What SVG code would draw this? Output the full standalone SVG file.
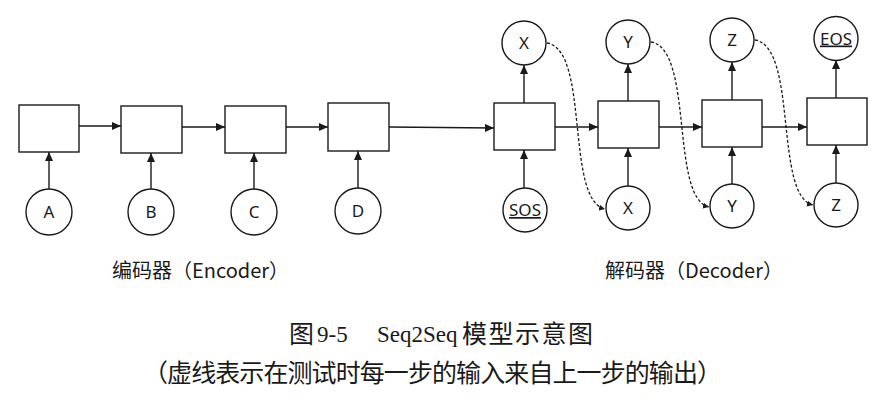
<svg xmlns="http://www.w3.org/2000/svg" width="880" height="403" viewBox="0 0 880 403">
<defs>
<marker id="ah" markerUnits="userSpaceOnUse" markerWidth="9" markerHeight="8" refX="9" refY="4" orient="auto"><path d="M0,0 L9,4 L0,8 z" fill="#1a1a1a"/></marker>
<marker id="ahs" markerUnits="userSpaceOnUse" markerWidth="6" markerHeight="6" refX="6" refY="3" orient="auto"><path d="M0,0 L6,3 L0,6 z" fill="#1a1a1a"/></marker>
<style>
.box{fill:#fff;stroke:#1a1a1a;stroke-width:1.4}
.cir{fill:#fff;stroke:#1a1a1a;stroke-width:1.4}
.lbl{font-family:"Noto Sans","Liberation Sans",sans-serif;font-size:17px;fill:#1a1a1a;text-anchor:middle}
.u{text-decoration:underline}
.edge{fill:none;stroke:#1a1a1a;stroke-width:1.4;marker-end:url(#ah)}
.dash{fill:none;stroke:#1a1a1a;stroke-width:1.3;stroke-dasharray:3 2;marker-end:url(#ahs)}
.sec{font-family:"Noto Sans CJK SC","Noto Sans",sans-serif;font-size:20px;fill:#1a1a1a}
.cap{font-family:"Liberation Serif","Noto Sans CJK SC",serif;font-size:23px;fill:#1a1a1a}
.capc{font-family:"Noto Sans CJK SC",serif;font-size:25px;fill:#1a1a1a}
</style>
</defs>
<rect width="880" height="403" fill="#fff"/>
<g id="connectors">
<line class="edge" x1="79" y1="126" x2="121" y2="126"/>
<line class="edge" x1="182" y1="127" x2="225" y2="127"/>
<line class="edge" x1="286" y1="127" x2="328" y2="127"/>
<line class="edge" x1="389" y1="127" x2="494" y2="128"/>
<line class="edge" x1="555" y1="127" x2="598" y2="127"/>
<line class="edge" x1="659" y1="127" x2="702" y2="127"/>
<line class="edge" x1="762" y1="127" x2="807" y2="127"/>
<line class="edge" x1="49" y1="189" x2="49" y2="152"/>
<line class="edge" x1="151" y1="189" x2="151" y2="153"/>
<line class="edge" x1="254" y1="189" x2="254" y2="153"/>
<line class="edge" x1="358" y1="188" x2="358" y2="151"/>
<line class="edge" x1="524" y1="188" x2="524" y2="150"/>
<line class="edge" x1="628" y1="186" x2="628" y2="148"/>
<line class="edge" x1="732" y1="184" x2="732" y2="147"/>
<line class="edge" x1="836" y1="183" x2="836" y2="145"/>
<line class="edge" x1="524" y1="103" x2="524" y2="65"/>
<line class="edge" x1="628" y1="101" x2="628" y2="64"/>
<line class="edge" x1="732" y1="100" x2="732" y2="62"/>
<line class="edge" x1="836" y1="98" x2="836" y2="60"/>
<path class="dash" d="M547,43 C590,50 565,200 605,209"/>
<path class="dash" d="M651,42 C694,49 670,198 709,207"/>
<path class="dash" d="M755,40 C798,47 774,196 813,205"/>
</g>
<g id="enc1"><rect class="box" x="19" y="105" width="60" height="47"/></g>
<g id="enc2"><rect class="box" x="121" y="106" width="61" height="47"/></g>
<g id="enc3"><rect class="box" x="225" y="106" width="61" height="47"/></g>
<g id="enc4"><rect class="box" x="328" y="103" width="61" height="48"/></g>
<g id="dec1"><rect class="box" x="494" y="103" width="61" height="47"/></g>
<g id="dec2"><rect class="box" x="598" y="101" width="61" height="47"/></g>
<g id="dec3"><rect class="box" x="702" y="100" width="60" height="47"/></g>
<g id="dec4"><rect class="box" x="807" y="98" width="60" height="47"/></g>
<g id="inA"><circle class="cir" cx="49" cy="212" r="23"/><text class="lbl" x="49" y="218">A</text></g>
<g id="inB"><circle class="cir" cx="151" cy="212" r="23"/><text class="lbl" x="151" y="218">B</text></g>
<g id="inC"><circle class="cir" cx="254" cy="212" r="23"/><text class="lbl" x="254" y="218">C</text></g>
<g id="inD"><circle class="cir" cx="358" cy="211" r="23"/><text class="lbl" x="358" y="217">D</text></g>
<g id="inSOS"><circle class="cir" cx="525" cy="210" r="22"/><text class="lbl u" x="525" y="216">SOS</text></g>
<g id="inX"><circle class="cir" cx="628" cy="208" r="22"/><text class="lbl" x="628" y="214">X</text></g>
<g id="inY"><circle class="cir" cx="732" cy="206" r="22"/><text class="lbl" x="732" y="212">Y</text></g>
<g id="inZ"><circle class="cir" cx="836" cy="205" r="22"/><text class="lbl" x="836" y="211">Z</text></g>
<g id="outX"><circle class="cir" cx="524" cy="43" r="22"/><text class="lbl" x="524" y="49">X</text></g>
<g id="outY"><circle class="cir" cx="628" cy="42" r="22"/><text class="lbl" x="628" y="48">Y</text></g>
<g id="outZ"><circle class="cir" cx="732" cy="40" r="22"/><text class="lbl" x="732" y="46">Z</text></g>
<g id="outEOS"><circle class="cir" cx="836" cy="38.5" r="22"/><text class="lbl u" x="836" y="44.5">EOS</text></g>
<g id="labels">
<text class="sec" x="112" y="278">编码器（Encoder）</text>
<text class="sec" x="605" y="278">解码器（Decoder）</text>
</g>
<g id="caption">
<text class="capc" x="289" y="343">图</text>
<text class="cap" x="317" y="342">9-5</text>
<text class="cap" x="377" y="342">Seq2Seq</text>
<text class="capc" x="462" y="343" textLength="131" lengthAdjust="spacing">模型示意图</text>
<text class="capc" x="143" y="382" textLength="579" lengthAdjust="spacing">（虚线表示在测试时每一步的输入来自上一步的输出）</text>
</g>
</svg>
